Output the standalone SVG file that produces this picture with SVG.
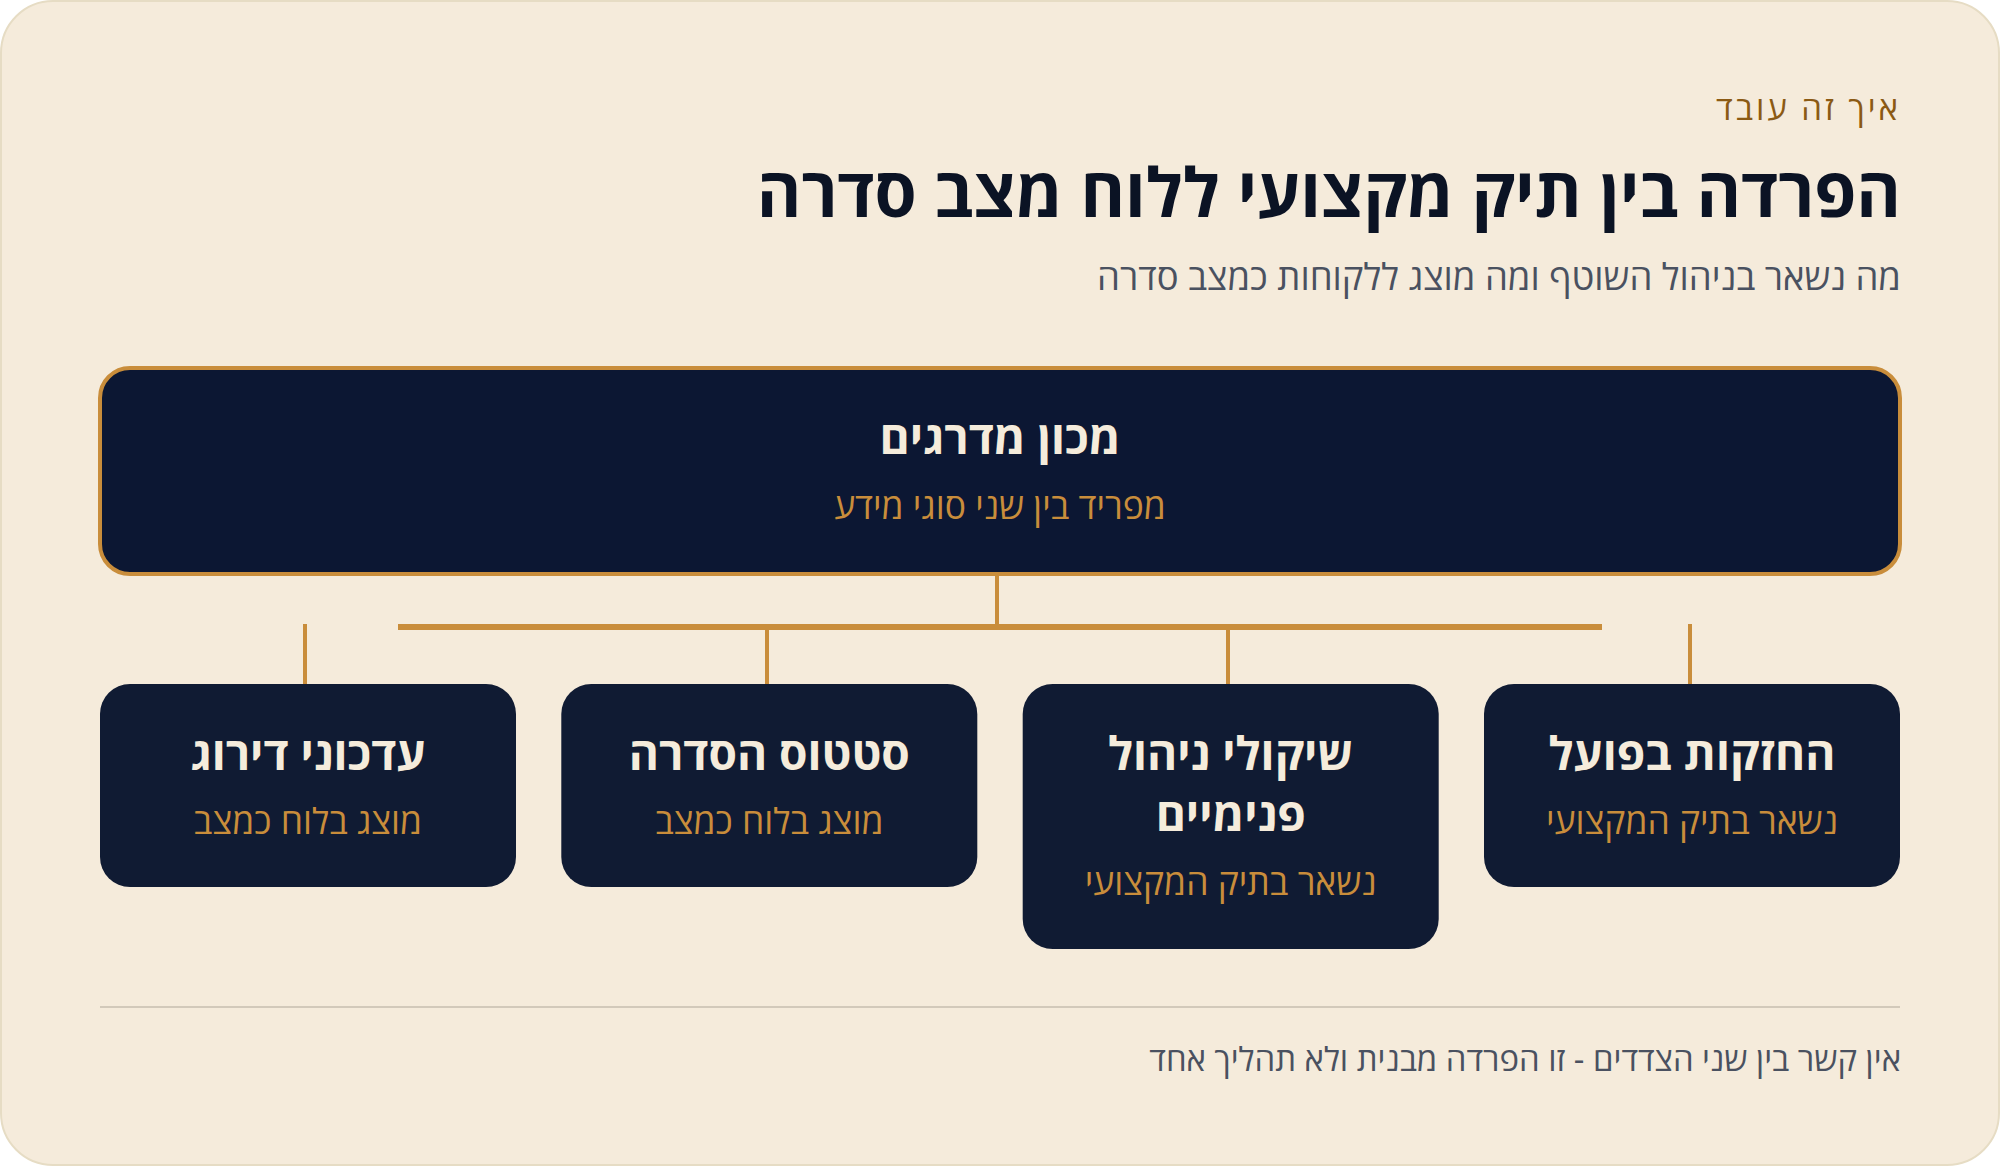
<svg xmlns="http://www.w3.org/2000/svg" width="2000" height="1166" viewBox="0 0 2000 1166">
  <style>
    text { font-family: "Open Sans", "Noto Sans", sans-serif; }
    .kicker { font-size: 33px; fill: #8b5a14; letter-spacing: 3px; text-anchor: end; }
    .title { font-size: 68px; font-weight: 700; fill: #0b1324; text-anchor: end; }
    .sub { font-size: 36.5px; fill: #4a5160; text-anchor: end; }
    .foot { font-size: 32.9px; fill: #4a5160; text-anchor: end; }
    .ntitle { font-size: 46px; font-weight: 700; fill: #f5ecdc; text-anchor: middle; }
    .nsub { font-size: 35.5px; fill: #c98d3b; text-anchor: middle; }
    .box { fill: #101b33; }
    .conn { stroke: #c98d3b; fill: none; }
  </style>
  <rect x="1" y="1" width="1998" height="1164" rx="52" fill="#f5ebdb" stroke="#e6dcc4" stroke-width="2"/>
  <text class="kicker" x="1901" y="120">איך זה עובד</text>
  <text class="title" x="1901" y="217">הפרדה בין תיק מקצועי ללוח מצב סדרה</text>
  <text class="sub" x="1901" y="290">מה נשאר בניהול השוטף ומה מוצג ללקוחות כמצב סדרה</text>

  <g id="connectors">
    <line class="conn" x1="997" y1="574" x2="997" y2="627" stroke-width="4"/>
    <line class="conn" x1="398" y1="627" x2="1602" y2="627" stroke-width="6"/>
    <line class="conn" x1="305" y1="624" x2="305" y2="684" stroke-width="4"/>
    <line class="conn" x1="767" y1="627" x2="767" y2="684" stroke-width="4"/>
    <line class="conn" x1="1228" y1="627" x2="1228" y2="684" stroke-width="4"/>
    <line class="conn" x1="1690" y1="624" x2="1690" y2="684" stroke-width="4"/>
  </g>

  <g id="node-main">
    <rect x="100" y="368" width="1800" height="206" rx="30" fill="#0c1733" stroke="#c98d3b" stroke-width="4"/>
    <text class="ntitle" x="1000" y="454" font-size="47">מכון מדרגים</text>
    <text class="nsub" x="1000" y="519">מפריד בין שני סוגי מידע</text>
  </g>

  <g id="node-holdings">
    <rect class="box" x="1484" y="684" width="416" height="203" rx="30"/>
    <text class="ntitle" x="1692" y="770">החזקות בפועל</text>
    <text class="nsub" x="1692" y="834">נשאר בתיק המקצועי</text>
  </g>

  <g id="node-internal">
    <rect class="box" x="1022.7" y="684" width="416" height="265" rx="30"/>
    <text class="ntitle" x="1230.7" y="770">שיקולי ניהול</text>
    <text class="ntitle" x="1230.7" y="831">פנימיים</text>
    <text class="nsub" x="1230.7" y="895">נשאר בתיק המקצועי</text>
  </g>

  <g id="node-status">
    <rect class="box" x="561.3" y="684" width="416" height="203" rx="30"/>
    <text class="ntitle" x="769.3" y="770">סטטוס הסדרה</text>
    <text class="nsub" x="769.3" y="834">מוצג בלוח כמצב</text>
  </g>

  <g id="node-rating">
    <rect class="box" x="100" y="684" width="416" height="203" rx="30"/>
    <text class="ntitle" x="308" y="770">עדכוני דירוג</text>
    <text class="nsub" x="308" y="834">מוצג בלוח כמצב</text>
  </g>

  <line x1="100" y1="1007" x2="1900" y2="1007" stroke="#d2c9ba" stroke-width="2"/>
  <text class="foot" x="1901" y="1071">אין קשר בין שני הצדדים - זו הפרדה מבנית ולא תהליך אחד</text>
</svg>
